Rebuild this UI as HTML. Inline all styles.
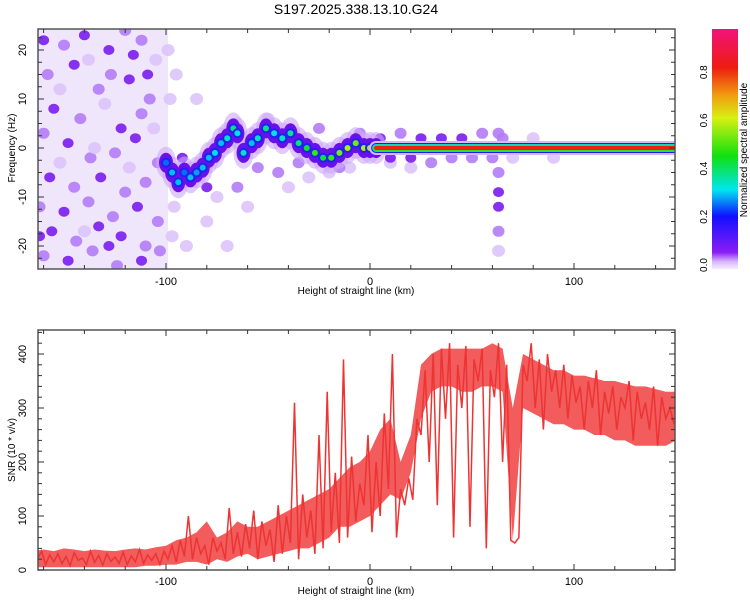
<!DOCTYPE html>
<html><head><meta charset="utf-8"><style>
body{margin:0;background:#fff}
svg{display:block;font-family:"Liberation Sans",sans-serif}
</style></head><body>
<svg id="chart" width="750" height="600" viewBox="0 0 750 600" xmlns="http://www.w3.org/2000/svg">
<defs>
<linearGradient id="cbar" x1="0" y1="1" x2="0" y2="0">
<stop offset="0" stop-color="#f4ecfd"/><stop offset="0.03" stop-color="#d9b8fb"/><stop offset="0.07" stop-color="#8a1cf5"/>
<stop offset="0.22" stop-color="#1010ff"/><stop offset="0.33" stop-color="#00e6f0"/><stop offset="0.47" stop-color="#10e010"/>
<stop offset="0.63" stop-color="#d8f010"/><stop offset="0.72" stop-color="#f0a010"/><stop offset="0.84" stop-color="#ee1c10"/>
<stop offset="1" stop-color="#f2127a"/></linearGradient>
<clipPath id="clipTop"><rect x="38" y="29" width="637" height="240"/></clipPath>
<clipPath id="clipBot"><rect x="38" y="330" width="637" height="240"/></clipPath>
</defs>
<text x="356" y="14" font-size="14" text-anchor="middle">S197.2025.338.13.10.G24</text>
<g id="topPanel"></g>
<g id="botPanel"></g>
<g id="cbPanel"></g>
</svg>
<script>
const noiseBlobs = [[-160,22,3],[-150,21,2],[-140,23,3],[-128,20,3],[-120,24,2],[-112,22,2],[-105,18,1],[-158,15,2],[-145,17,3],[-133,12,2],[-118,14,3],[-108,10,2],[-155,8,3],[-142,6,2],[-130,9,1],[-122,4,3],[-112,7,2],[-160,3,2],[-148,1,3],[-137,-2,2],[-125,-1,2],[-115,2,3],[-104,-3,2],[-157,-6,3],[-145,-8,2],[-132,-6,3],[-120,-9,2],[-110,-7,2],[-162,-12,2],[-150,-13,3],[-138,-11,2],[-126,-14,2],[-114,-12,3],[-104,-15,2],[-156,-17,3],[-144,-19,2],[-133,-16,3],[-122,-18,3],[-110,-20,2],[-160,-22,2],[-148,-23,3],[-136,-21,2],[-124,-24,2],[-112,-23,3],[-103,-21,2],[-152,12,1],[-138,18,1],[-127,15,2],[-152,-3,1],[-118,-4,1],[-140,-17,1],[-106,4,1],[-135,0,1],[-162,-18,3],[-128,-20,3],[-109,15,3],[-116,19,3],[-98,10,1],[-96,-12,1],[-99,20,1],[-97,-18,1],[-95,15,1],[-85,10,1],[-80,-15,1],[-90,-20,1],[-75,-10,1],[-70,-20,1],[-60,-12,1],[-40,-8,1],[-30,-6,1],[-20,-5,1],[-10,-4,1],[10,-3,1],[20,-4,1],[-50,6,1],[-65,-8,2],[-45,-5,2],[63,-5,2],[63,-9,3],[63,-12,3],[63,-17,2],[63,-21,1],[63,3,2],[5,2,3],[10,-2,3],[15,3,2],[20,-2,3],[25,2,3],[30,-3,2],[35,2,3],[40,-2,2],[45,2,3],[50,-2,2],[55,3,2],[60,-2,2],[65,2,2],[70,-2,1],[80,2,1],[90,-2,1],[-25,4,2],[-15,-4,2],[-5,3,2],[-35,-3,2],[-55,-4,2],[-80,-8,3],[-92,-2,3]];
const ridgeKm = [-100,-97,-94,-91,-88,-85,-82,-79,-76,-73,-70,-67,-65,-62,-58,-55,-51,-47,-43,-39,-35,-31,-27,-23,-19,-15,-11,-7,-3,0,3];
const ridgeHz = [-3,-5,-7,-5,-6,-5,-4,-2,-1,1,2,4,3,-1,1,2,4,3,2,3,1,0,-1,-2,-2,-1,0,1,0,0,0];
const ridgeAmp = [0.25,0.3,0.3,0.25,0.3,0.28,0.3,0.3,0.32,0.3,0.35,0.4,0.33,0.35,0.3,0.35,0.4,0.32,0.35,0.38,0.4,0.45,0.5,0.45,0.5,0.55,0.6,0.55,0.6,0.6,0.65];
const lineStartKm = 3, lineEndKm = 149;
const snrStartKm = -163, snrStepKm = 2;
const snrValues = [20,35,10,28,15,30,12,25,8,32,
18,22,10,35,14,27,9,30,16,24,
12,33,10,26,15,38,12,28,18,30,
10,35,20,45,15,55,25,100,20,60,
30,45,10,60,35,50,20,115,30,70,
25,85,40,110,20,90,45,75,15,120,
30,100,50,310,20,140,60,110,30,250,
40,330,70,180,50,390,60,210,90,160,
120,250,70,200,100,290,150,400,60,150,
120,170,130,280,250,370,200,400,120,410,
280,420,60,380,300,415,80,390,350,410,
40,370,320,420,200,380,55,50,60,380,
350,420,300,390,260,400,330,370,300,380,
280,360,310,340,260,350,300,370,250,330,
290,340,260,320,300,350,240,330,280,310,
260,340,230,320,280,300,270];
const bandStartKm = -165, bandStepKm = 5;
const snrBandHigh = [35,38,35,40,38,35,38,36,35,38,40,38,42,45,
55,60,70,90,60,70,90,80,
80,90,100,110,120,130,140,150,
170,190,200,220,260,280,200,250,
380,400,410,410,410,410,410,420,
410,300,400,390,380,370,370,360,
360,355,350,350,345,340,340,335,330,330];
const snrBandLow = [5,5,5,5,5,5,5,5,5,5,5,8,8,10,
10,15,15,10,20,15,25,30,
20,25,30,35,40,40,50,60,
80,80,90,100,120,140,130,180,
280,330,340,340,330,330,340,340,
330,55,300,290,280,270,270,260,
260,250,250,240,240,230,230,230,230,240];
const xTicks = [-100,0,100];
const freqTicks = [20,10,0,-10,-20];
const snrTicks = [0,100,200,300,400];
const cbTicks = [0.0,0.2,0.4,0.6,0.8];

const NS="http://www.w3.org/2000/svg";
function el(tag,attrs,parent){const e=document.createElementNS(NS,tag);for(const k in attrs)e.setAttribute(k,attrs[k]);parent.appendChild(e);return e;}
const xS = km => 370 + km*2.04;
const yTop = hz => 148 - hz*4.9;
const yBot = v => 570 - v*0.54;
const cbY = v => 265 - v*241;
function ampColor(a){const st=[[0,[140,30,245]],[0.2,[20,20,255]],[0.32,[0,225,240]],[0.47,[20,225,20]],[0.63,[215,240,20]],[0.72,[240,160,20]],[0.84,[238,30,16]],[1,[240,20,120]]];
for(let i=1;i<st.length;i++){if(a<=st[i][0]){const t=(a-st[i-1][0])/(st[i][0]-st[i-1][0]);const c=st[i-1][1].map((v,j)=>Math.round(v+(st[i][1][j]-v)*t));return `rgb(${c})`;}}return 'rgb(240,20,120)';}

const topG=document.getElementById('topPanel');
const tpG=el('g',{'clip-path':'url(#clipTop)'},topG);
el('rect',{x:xS(-163),y:29,width:xS(-99)-xS(-163),height:240,fill:'#f0e6fc'},tpG);
const lvlFill=['','#dcc4fb','#b27cf6','#7a1cf0'];
const lvlR=[0,6.5,6,5.5];
noiseBlobs.forEach(b=>{
  const c=el('ellipse',{cx:xS(b[0]),cy:yTop(b[1]),rx:lvlR[b[2]],ry:lvlR[b[2]]-0.5,fill:lvlFill[b[2]],opacity:0.9},tpG);
  
  
});
ridgeKm.forEach((k,i)=>{
  const h=el('ellipse',{cx:xS(k),cy:yTop(ridgeHz[i]),rx:10,ry:16,fill:'#cfa8fa',opacity:0.6},tpG);
  
  
});
ridgeKm.forEach((k,i)=>{
  const o=el('ellipse',{cx:xS(k),cy:yTop(ridgeHz[i]),rx:7,ry:10,fill:'#6a10e8'},tpG);
  
  
});
ridgeKm.forEach((k,i)=>{
  const m=el('circle',{cx:xS(k),cy:yTop(ridgeHz[i]),r:5,fill:'#2020f0'},tpG);
  
  
  const c=el('circle',{cx:xS(k),cy:yTop(ridgeHz[i]),r:3,fill:ampColor(ridgeAmp[i])},tpG);
  
  
});
[['#d6b8fb',14],['#1a1aff',10],['#00d8f0',8],['#30e020',6.5],['#ee2010',4]].forEach(s=>{
  const l=el('line',{x1:xS(lineStartKm),y1:yTop(0),x2:xS(lineEndKm),y2:yTop(0),stroke:s[0],'stroke-width':s[1],'stroke-linecap':'round'},tpG);
  
  
});
function drawFrame(g,y0,y1){el('rect',{x:38,y:y0,width:637,height:y1-y0,fill:'none',stroke:'#555','stroke-width':1.5},g);
  for(let k=-160;k<=140;k+=20){const L=(k%100===0)?6:4;el('line',{x1:xS(k),y1:y0,x2:xS(k),y2:y0+L,stroke:'#333'},g);el('line',{x1:xS(k),y1:y1,x2:xS(k),y2:y1-L,stroke:'#333'},g);}}
drawFrame(topG,29,269);
for(let h=-22.5;h<=22.5;h+=2.5){const L=(h%10===0)?6:4;el('line',{x1:38,y1:yTop(h),x2:38+L,y2:yTop(h),stroke:'#333'},topG);el('line',{x1:675,y1:yTop(h),x2:675-L,y2:yTop(h),stroke:'#333'},topG);}
freqTicks.forEach(t=>{const x=26,y=yTop(t);const e=el('text',{x:x,y:y,'font-size':11,'text-anchor':'middle',transform:`rotate(-90 ${x} ${y})`},topG);e.textContent=t;});
xTicks.forEach(t=>{const e=el('text',{x:xS(t),y:285,'font-size':11,'text-anchor':'middle'},topG);e.textContent=t;});
{const e=el('text',{x:356,y:294,'font-size':10,'text-anchor':'middle'},topG);e.textContent='Height of straight line (km)';}
{const e=el('text',{x:15,y:148,'font-size':10,'text-anchor':'middle',transform:'rotate(-90 15 148)'},topG);e.textContent='Frequency (Hz)';}

const botG=document.getElementById('botPanel');
const bpG=el('g',{'clip-path':'url(#clipBot)'},botG);
const hi=snrBandHigh.map((v,i)=>`${xS(bandStartKm+i*bandStepKm).toFixed(1)},${yBot(v).toFixed(1)}`);
const lo=snrBandLow.map((v,i)=>`${xS(bandStartKm+i*bandStepKm).toFixed(1)},${yBot(v).toFixed(1)}`).reverse();
const band=el('polygon',{points:hi.concat(lo).join(' '),fill:'#f04040',opacity:0.85},bpG);


const pts=snrValues.map((v,i)=>`${xS(snrStartKm+i*snrStepKm).toFixed(1)},${yBot(v).toFixed(1)}`).join(' ');
const pl=el('polyline',{points:pts,fill:'none',stroke:'#ee3333','stroke-width':1.5},bpG);


drawFrame(botG,330,570);
for(let v=0;v<=440;v+=20){const L=(v%100===0)?6:4;el('line',{x1:38,y1:yBot(v),x2:38+L,y2:yBot(v),stroke:'#333'},botG);el('line',{x1:675,y1:yBot(v),x2:675-L,y2:yBot(v),stroke:'#333'},botG);}
snrTicks.forEach(t=>{const x=26,y=yBot(t);const e=el('text',{x:x,y:y,'font-size':11,'text-anchor':'middle',transform:`rotate(-90 ${x} ${y})`},botG);e.textContent=t;});
xTicks.forEach(t=>{const e=el('text',{x:xS(t),y:585,'font-size':11,'text-anchor':'middle'},botG);e.textContent=t;});
{const e=el('text',{x:356,y:594,'font-size':10,'text-anchor':'middle'},botG);e.textContent='Height of straight line (km)';}
{const e=el('text',{x:15,y:450,'font-size':10,'text-anchor':'middle',transform:'rotate(-90 15 450)'},botG);e.textContent='SNR (10 * v/v)';}

const cbG=document.getElementById('cbPanel');
el('rect',{x:712,y:29,width:26,height:240,fill:'url(#cbar)'},cbG);
cbTicks.forEach(t=>{const x=707,y=cbY(t);const e=el('text',{x:x,y:y,'font-size':10,'text-anchor':'middle',transform:`rotate(-90 ${x} ${y})`},cbG);e.textContent=t.toFixed(1);});
{const e=el('text',{x:747,y:150,'font-size':10,'text-anchor':'middle',transform:'rotate(-90 747 150)'},cbG);e.textContent='Normalized spectral amplitude';}
</script>
</body></html>
